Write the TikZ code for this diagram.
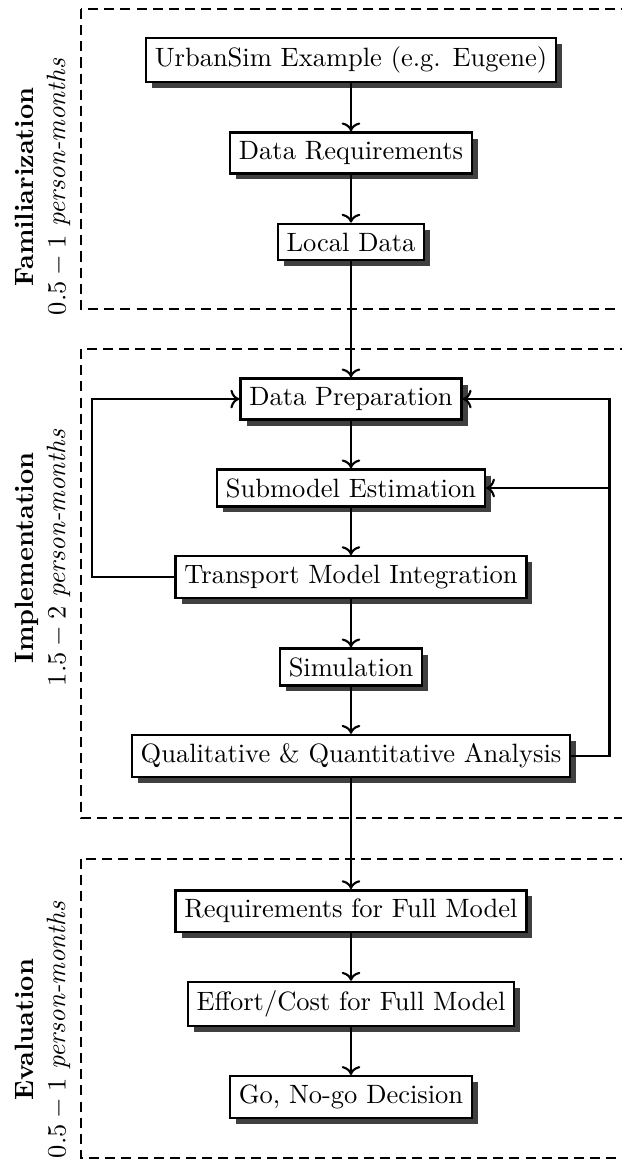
\documentclass[tikz,border=0pt]{standalone}
\usepackage{amsmath,amssymb}
\usepackage{tikz}
\usetikzlibrary{arrows.meta, positioning, calc, shadows}

\begin{document}
\begin{tikzpicture}[
    stage/.style={draw, line width=0.9pt, fill=white, inner sep=3.33pt,
        drop shadow={shadow xshift=0.08cm, shadow yshift=-0.08cm, fill=black!75, opacity=1}},
    phase/.style={line width=0.9pt, dash pattern=on 3.8pt off 2.3pt},
    flow/.style={->, line width=0.8pt},
    phaselabel/.style={rotate=90, align=center}
]
    \useasboundingbox (0,0) rectangle (8.237,-15.398);

    % Phases
    \draw[phase] (1.074,-0.119) rectangle (9,-4.098);
    \draw[phase] (1.074,-4.629) rectangle (9,-10.849);
    \draw[phase] (1.074,-11.393) rectangle (9,-15.359);

    \node[phaselabel] (famlabel) at (0.57,-2.48) {\textbf{Familiarization}\\ $0.5 - 1$ \textit{person-months}};
    \node[phaselabel] (implabel) at (0.57,-7.40) {\textbf{Implementation}\\ $1.5 - 2$ \textit{person-months}};
    \node[phaselabel] (evallabel) at (0.57,-13.66) {\textbf{Evaluation}\\ $0.5 - 1$ \textit{person-months}};

    % Familiarization steps
    \node[stage] (urbansim) at (4.655,-0.796) {UrbanSim Example (e.g. Eugene)};
    \node[stage] (datareq) at (4.655,-2.029) {Data Requirements};
    \node[stage] (localdata) at (4.655,-3.210) {Local Data};

    % Implementation steps
    \node[stage] (dataprep) at (4.655,-5.292) {Data Preparation};
    \node[stage] (estim) at (4.655,-6.472) {Submodel Estimation};
    \node[stage] (transport) at (4.655,-7.653) {Transport Model Integration};
    \node[stage] (sim) at (4.655,-8.846) {Simulation};
    \node[stage] (analysis) at (4.655,-10.027) {Qualitative \& Quantitative Analysis};

    % Evaluation steps
    \node[stage] (fullreq) at (4.655,-12.083) {Requirements for Full Model};
    \node[stage] (effort) at (4.655,-13.316) {Effort/Cost for Full Model};
    \node[stage] (decision) at (4.655,-14.550) {Go, No-go Decision};

    % Main flow
    \draw[flow] (urbansim) -- (datareq);
    \draw[flow] (datareq) -- (localdata);
    \draw[flow] (localdata) -- (dataprep);
    \draw[flow] (dataprep) -- (estim);
    \draw[flow] (estim) -- (transport);
    \draw[flow] (transport) -- (sim);
    \draw[flow] (sim) -- (analysis);
    \draw[flow] (analysis) -- (fullreq);
    \draw[flow] (fullreq) -- (effort);
    \draw[flow] (effort) -- (decision);

    % Feedback loops
    \coordinate (lcorner) at (1.220,0);
    \coordinate (rcorner) at (8.084,0);
    \draw[flow] (transport.west) -| (lcorner |- dataprep) -- (dataprep.west);
    \draw[flow] (analysis.east) -| (rcorner |- dataprep) -- (dataprep.east);
    \draw[flow] (rcorner |- estim) -- (estim.east);
\end{tikzpicture}
\end{document}
